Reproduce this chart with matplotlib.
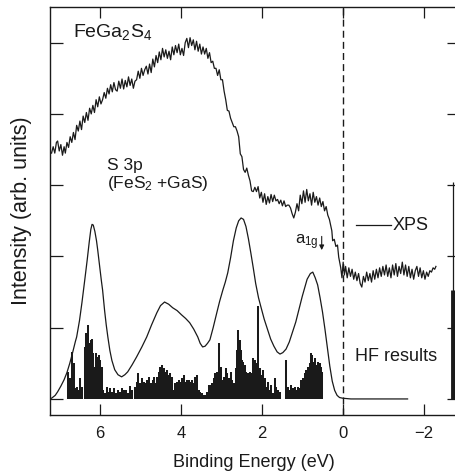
import matplotlib
matplotlib.use("Agg")
import matplotlib.pyplot as plt

plt.rcParams["font.family"] = ["Liberation Sans", "DejaVu Sans"]
plt.rcParams["mathtext.default"] = "regular"

INK = "#1a1a1a"

# XPS valence band spectrum (binding energy in eV, intensity in arb. units)
XPS_E = [
    7.19, 7.15, 7.11, 7.07, 7.04, 7.00, 6.96, 6.92, 6.88, 6.85, 6.81, 6.77, 6.73, 6.69,
    6.65, 6.61, 6.57, 6.53, 6.49, 6.45, 6.41, 6.37, 6.33, 6.29, 6.25, 6.21, 6.17, 6.13,
    6.09, 6.05, 6.01, 5.97, 5.93, 5.89, 5.85, 5.81, 5.77, 5.73, 5.69, 5.65, 5.61, 5.57,
    5.53, 5.49, 5.45, 5.41, 5.37, 5.33, 5.29, 5.25, 5.21, 5.17, 5.13, 5.09, 5.05, 5.01,
    4.97, 4.93, 4.89, 4.85, 4.81, 4.77, 4.73, 4.69, 4.65, 4.61, 4.57, 4.53, 4.49, 4.45,
    4.41, 4.37, 4.33, 4.29, 4.25, 4.21, 4.17, 4.13, 4.09, 4.05, 4.01, 3.97, 3.93, 3.89,
    3.85, 3.81, 3.77, 3.73, 3.69, 3.65, 3.61, 3.57, 3.53, 3.49, 3.45, 3.41, 3.37, 3.33,
    3.29, 3.25, 3.21, 3.17, 3.13, 3.09, 3.05, 3.01, 2.97, 2.93, 2.89, 2.85, 2.81, 2.77,
    2.73, 2.69, 2.65, 2.61, 2.57, 2.53, 2.49, 2.45, 2.41, 2.37, 2.33, 2.29, 2.25, 2.21,
    2.17, 2.13, 2.09, 2.05, 2.01, 1.97, 1.93, 1.89, 1.85, 1.81, 1.77, 1.73, 1.69, 1.65,
    1.61, 1.57, 1.53, 1.49, 1.45, 1.41, 1.37, 1.33, 1.29, 1.25, 1.21, 1.17, 1.13, 1.09,
    1.05, 1.01, 0.97, 0.93, 0.89, 0.85, 0.81, 0.77, 0.73, 0.69, 0.65, 0.61, 0.57, 0.53,
    0.49, 0.45, 0.41, 0.37, 0.33, 0.30, 0.27, 0.25, 0.21, 0.17, 0.13, 0.10, 0.07, 0.05,
    0.02, -0.01, -0.04, -0.07, -0.11, -0.15, -0.19, -0.23, -0.27, -0.31, -0.35, -0.39,
    -0.43, -0.47, -0.51, -0.55, -0.59, -0.63, -0.67, -0.71, -0.75, -0.79, -0.83, -0.87,
    -0.91, -0.95, -0.99, -1.03, -1.07, -1.11, -1.15, -1.19, -1.23, -1.27, -1.31, -1.35,
    -1.39, -1.43, -1.47, -1.51, -1.55, -1.59, -1.63, -1.67, -1.71, -1.75, -1.79, -1.83,
    -1.87, -1.91, -1.95, -1.99, -2.03, -2.07, -2.11, -2.15, -2.19, -2.23, -2.27, -2.30,
]
XPS_I = [
    3.45, 3.54, 3.45, 3.60, 3.62, 3.48, 3.57, 3.42, 3.54, 3.45, 3.60, 3.53, 3.68, 3.60,
    3.74, 3.64, 3.84, 3.76, 3.90, 3.78, 3.97, 3.88, 4.02, 3.91, 4.08, 4.00, 4.12, 4.02,
    4.20, 4.10, 4.24, 4.14, 4.20, 4.30, 4.22, 4.36, 4.28, 4.41, 4.31, 4.44, 4.34, 4.32,
    4.46, 4.36, 4.49, 4.35, 4.47, 4.38, 4.52, 4.40, 4.49, 4.36, 4.46, 4.48, 4.60, 4.50,
    4.64, 4.54, 4.62, 4.67, 4.56, 4.70, 4.58, 4.77, 4.66, 4.82, 4.72, 4.87, 4.76, 4.92,
    4.80, 4.90, 4.78, 4.88, 4.76, 4.94, 4.83, 4.96, 4.86, 4.98, 4.83, 4.92, 4.82, 5.00,
    5.06, 4.93, 5.07, 4.96, 5.04, 4.90, 5.02, 4.88, 4.98, 4.84, 4.94, 4.84, 4.92, 4.78,
    4.86, 4.72, 4.74, 4.64, 4.64, 4.54, 4.62, 4.48, 4.48, 4.32, 4.20, 4.05, 4.04, 3.94,
    3.88, 3.82, 3.82, 3.76, 3.68, 3.44, 3.40, 3.22, 3.18, 3.24, 3.14, 3.06, 2.92, 2.91,
    2.97, 2.91, 2.98, 2.82, 2.90, 2.76, 2.88, 2.73, 2.84, 2.75, 2.87, 2.77, 2.86, 2.78,
    2.80, 2.74, 2.79, 2.71, 2.78, 2.70, 2.72, 2.72, 2.68, 2.60, 2.54, 2.62, 2.74, 2.64,
    2.86, 2.74, 2.92, 2.76, 2.94, 2.78, 2.88, 2.72, 2.90, 2.76, 2.84, 2.72, 2.82, 2.70,
    2.77, 2.64, 2.70, 2.58, 2.52, 2.44, 2.36, 2.22, 2.24, 2.14, 2.16, 1.99, 1.90, 1.84,
    1.70, 1.92, 1.74, 1.86, 1.70, 1.84, 1.72, 1.82, 1.68, 1.78, 1.66, 1.76,
    1.62, 1.57, 1.72, 1.64, 1.78, 1.66, 1.76, 1.64, 1.80, 1.68, 1.82, 1.70,
    1.84, 1.72, 1.86, 1.74, 1.88, 1.72, 1.84, 1.70, 1.88, 1.74, 1.90, 1.72,
    1.86, 1.76, 1.92, 1.74, 1.88, 1.72, 1.86, 1.70, 1.82, 1.68, 1.80, 1.86,
    1.72, 1.84, 1.70, 1.80, 1.68, 1.78, 1.72, 1.80, 1.78, 1.84, 1.82, 1.86,
]

# broadened HF density of states
HF_E = [
    7.19, 7.10, 7.04, 6.96, 6.88, 6.81, 6.74, 6.67, 6.60, 6.57, 6.50, 6.44, 6.37, 6.31,
    6.26, 6.22, 6.19, 6.16, 6.12, 6.08, 6.05, 6.00, 5.96, 5.93, 5.88, 5.84, 5.80, 5.75,
    5.70, 5.63, 5.55, 5.46, 5.38, 5.31, 5.20, 5.09, 4.96, 4.84, 4.72, 4.59, 4.50, 4.40,
    4.30, 4.20, 4.09, 3.98, 3.88, 3.78, 3.68, 3.58, 3.52, 3.46, 3.40, 3.34, 3.28, 3.20,
    3.11, 3.04, 2.96, 2.90, 2.84, 2.77, 2.70, 2.63, 2.57, 2.51, 2.45, 2.39, 2.33, 2.27,
    2.21, 2.15, 2.08, 2.02, 1.94, 1.86, 1.78, 1.70, 1.62, 1.55, 1.48, 1.40, 1.32, 1.24,
    1.16, 1.08, 1.00, 0.94, 0.88, 0.80, 0.74, 0.68, 0.62, 0.56, 0.50, 0.44, 0.38, 0.32,
    0.26, 0.20, 0.14, 0.08, 0.00, -0.20, -1.60,
]
HF_I = [
    0.01, 0.05, 0.10, 0.18, 0.27, 0.37, 0.50, 0.65, 0.81, 0.87, 1.10, 1.35, 1.67, 1.95,
    2.20, 2.38, 2.45, 2.44, 2.35, 2.22, 2.09, 1.85, 1.66, 1.53, 1.24, 1.04, 0.87, 0.68,
    0.54, 0.41, 0.34, 0.31, 0.34, 0.38, 0.48, 0.59, 0.73, 0.87, 1.04, 1.21, 1.31, 1.36,
    1.33, 1.28, 1.24, 1.18, 1.13, 1.07, 0.98, 0.87, 0.78, 0.73, 0.74, 0.78, 0.83, 1.00,
    1.21, 1.37, 1.53, 1.64, 1.77, 1.98, 2.22, 2.40, 2.50, 2.54, 2.52, 2.42, 2.25, 2.05,
    1.84, 1.62, 1.42, 1.29, 1.12, 0.98, 0.84, 0.74, 0.66, 0.63, 0.65, 0.70, 0.80, 0.94,
    1.08, 1.26, 1.44, 1.56, 1.68, 1.76, 1.78, 1.70, 1.60, 1.42, 1.22, 0.98, 0.72, 0.46,
    0.25, 0.12, 0.05, 0.02, 0.01, 0.00, 0.00,
]

# HF eigenvalue sticks
STICK_E = [
    6.782, 6.741, 6.675, 6.642, 6.601, 6.560, 6.510, 6.477, 6.428, 6.370, 6.329, 6.296,
    6.263, 6.222, 6.189, 6.165, 6.132, 6.099, 6.058, 6.025, 5.992, 5.951, 5.918, 5.868,
    5.827, 5.786, 5.736, 5.687, 5.646, 5.588, 5.539, 5.490, 5.440, 5.391, 5.341, 5.292,
    5.243, 5.193, 5.136, 5.078, 5.045, 5.004, 4.963, 4.914, 4.872, 4.831, 4.782, 4.733,
    4.683, 4.658, 4.617, 4.584, 4.543, 4.502, 4.461, 4.420, 4.379, 4.338, 4.296, 4.255,
    4.214, 4.173, 4.132, 4.091, 4.049, 4.008, 3.967, 3.926, 3.885, 3.844, 3.802, 3.761,
    3.720, 3.679, 3.638, 3.597, 3.556, 3.514, 3.473, 3.432, 3.391, 3.350, 3.309, 3.267,
    3.226, 3.185, 3.144, 3.095, 3.054, 3.012, 2.971, 2.930, 2.889, 2.848, 2.807, 2.765,
    2.724, 2.683, 2.642, 2.609, 2.576, 2.543, 2.510, 2.477, 2.461, 2.420, 2.379, 2.338,
    2.296, 2.255, 2.214, 2.173, 2.132, 2.091, 2.049, 2.008, 1.967, 1.926, 1.885, 1.844,
    1.802, 1.761, 1.720, 1.679, 1.638, 1.597, 1.556, 1.391, 1.350, 1.309, 1.267, 1.226,
    1.185, 1.144, 1.103, 1.062, 1.020, 0.979, 0.938, 0.897, 0.856, 0.815, 0.790, 0.749,
    0.716, 0.683, 0.650, 0.609, 0.568, 0.527, 0.502,
]
STICK_I = [
    0.38, 0.29, 0.66, 0.50, 0.15, 0.17, 0.13, 0.29, 0.17, 0.73, 0.92, 1.04,
    0.78, 0.83, 0.84, 0.64, 0.45, 0.64, 0.59, 0.62, 0.55, 0.45, 0.13, 0.08,
    0.17, 0.10, 0.16, 0.10, 0.15, 0.08, 0.13, 0.10, 0.15, 0.13, 0.13, 0.08,
    0.18, 0.13, 0.17, 0.24, 0.36, 0.22, 0.29, 0.24, 0.22, 0.27, 0.31, 0.22,
    0.27, 0.31, 0.22, 0.31, 0.38, 0.45, 0.47, 0.43, 0.38, 0.41, 0.34, 0.36,
    0.31, 0.13, 0.22, 0.24, 0.27, 0.24, 0.29, 0.34, 0.24, 0.27, 0.27, 0.24,
    0.27, 0.22, 0.31, 0.34, 0.13, 0.10, 0.08, 0.06, 0.06, 0.10, 0.20, 0.20,
    0.22, 0.29, 0.36, 0.38, 0.78, 0.45, 0.27, 0.31, 0.43, 0.36, 0.29, 0.38,
    0.27, 0.22, 0.43, 0.69, 0.97, 0.83, 0.69, 0.55, 0.52, 0.48, 0.38, 0.36,
    0.38, 0.36, 0.57, 0.55, 0.50, 1.30, 0.43, 0.34, 0.41, 0.29, 0.17, 0.24,
    0.13, 0.20, 0.08, 0.29, 0.17, 0.13, 0.10, 0.55, 0.17, 0.13, 0.20, 0.15,
    0.17, 0.13, 0.17, 0.15, 0.27, 0.29, 0.36, 0.41, 0.45, 0.50, 0.64, 0.62,
    0.52, 0.57, 0.48, 0.52, 0.50, 0.45, 0.38,
]

# fragment of the neighbouring panel at the cropped right edge
EDGE_E = -2.71
EDGE_LINE_TOP = 3.04
EDGE_BAR_TOP = 1.53

X_TICKS = [6, 4, 2, 0, -2]
Y_TICKS = [0, 1, 2, 3, 4, 5]

fig = plt.figure(figsize=(4.56, 4.76), dpi=100)
ax = fig.add_axes([0.1086, 0.1282, 0.898, 0.857])

ax.vlines(STICK_E, 0, STICK_I, color=INK, linewidth=1.45)
ax.plot(HF_E, HF_I, color=INK, linewidth=0.9)
ax.plot(XPS_E, XPS_I, color=INK, linewidth=0.9)
ax.axvline(0, color=INK, linewidth=1.0, linestyle=(0, (5, 3)))

ax.vlines([EDGE_E], 0, [EDGE_LINE_TOP], color=INK, linewidth=0.9)
ax.vlines([EDGE_E], 0, [EDGE_BAR_TOP], color=INK, linewidth=3.5)

# labels inside the frame
ax.text(6.67, 5.15, "FeGa$_2$S$_4$", fontsize=14, ha="left", va="center", color=INK)
ax.text(5.83, 3.27, "S 3p", fontsize=12.5, ha="left", va="center", color=INK)
ax.text(5.83, 3.03, "(FeS$_2$ +GaS)", fontsize=12.5, ha="left", va="center", color=INK)
ax.plot([-0.32, -1.19], [2.44, 2.44], color=INK, linewidth=0.9)
ax.text(-1.22, 2.44, "XPS", fontsize=13, ha="left", va="center", color=INK)
ax.text(-0.30, 0.59, "HF results", fontsize=13, ha="left", va="center", color=INK)
ax.text(1.19, 2.20, "a$_{1g}$", fontsize=12, ha="left", va="center", color=INK)
ax.annotate("", xy=(0.52, 2.05), xytext=(0.52, 2.32),
            arrowprops=dict(arrowstyle="-|>", color=INK, lw=0.8, mutation_scale=7))

ax.set_xlim(7.24, -2.87)
ax.set_ylim(-0.225, 5.5)
ax.set_xticks(X_TICKS)
ax.set_xticklabels(["6", "4", "2", "0", "\u22122"])
ax.set_yticks(Y_TICKS)
ax.tick_params(axis="x", direction="in", length=8, width=0.9, top=True,
               labelsize=12, pad=8, colors=INK)
ax.tick_params(axis="y", direction="in", length=9, width=0.9, right=True,
               labelleft=False, colors=INK)
for spine in ax.spines.values():
    spine.set_linewidth(1.0)
    spine.set_color(INK)

ax.set_xlabel("Binding Energy (eV)", fontsize=13, color=INK)
ax.set_ylabel("Intensity (arb. units)", fontsize=15.5, color=INK)
ax.xaxis.set_label_coords(0.5, -0.095)
ax.yaxis.set_label_coords(-0.042, 0.5)

fig.savefig("out.png", dpi=100, facecolor="white")
